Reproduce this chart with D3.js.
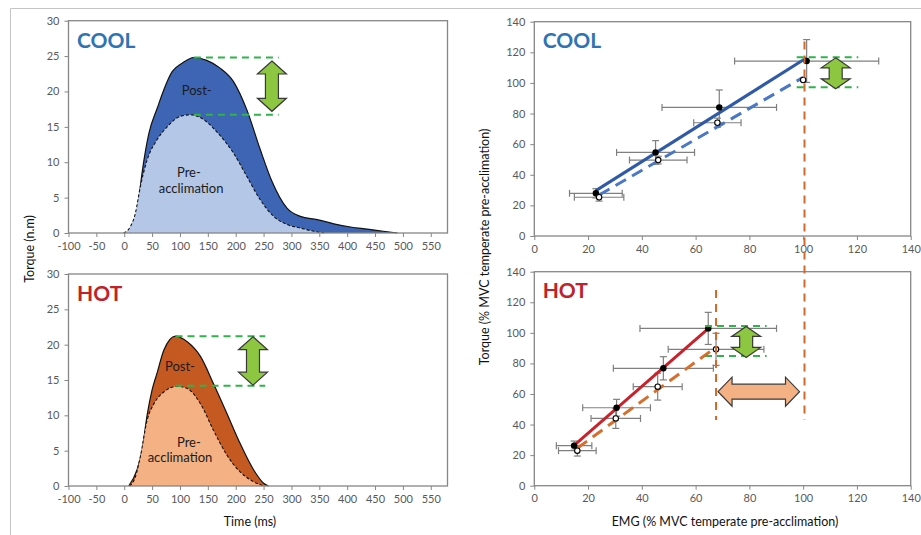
<!DOCTYPE html>
<html><head><meta charset="utf-8">
<script src="https://cdn.jsdelivr.net/npm/d3@7"></script>
<style>
body{margin:0;background:#fff}
svg{display:block}
text{font-family:Lato,"Open Sans",sans-serif}
</style>
</head><body>
<svg id="c" width="921" height="535"></svg>
<script>
// ---------- DATA ----------
// Torque-time curves (ms, N.m)
const coolPostTime = [10, 17, 23, 32, 44, 59, 86, 104, 125, 148, 172, 196, 220, 244, 265, 292, 316, 346, 376, 406, 436, 465, 490];
const coolPostTorque = [0, 0.5, 2.8, 8.5, 14, 17.6, 22.8, 24, 24.8, 24.4, 23.3, 21.4, 17.4, 11.8, 7.3, 3.5, 2.35, 1.9, 1.3, 0.85, 0.55, 0.25, 0];
const coolPreTime = [-1, 11, 20, 29, 41, 59, 77, 101, 119, 143, 166, 196, 220, 244, 268, 292, 316, 346, 361];
const coolPreTorque = [0, 0.9, 2.8, 6.6, 10.3, 13.2, 15, 16.5, 16.7, 16, 14.3, 11.3, 8, 4.7, 2.35, 1.2, 0.7, 0.15, 0];
const hotPostTime = [8, 23, 32, 41, 50, 59, 71, 92, 113, 137, 160, 184, 208, 232, 250, 259];
const hotPostTorque = [0, 2.3, 5, 10, 13.6, 16, 19.2, 21.2, 20.4, 18.3, 14.5, 10.3, 6, 2.3, 0.4, 0];
const hotPreTime = [10, 20, 29, 41, 53, 71, 95, 113, 137, 160, 184, 208, 232, 250];
const hotPreTorque = [0, 1.3, 4.2, 9.3, 11.6, 13.3, 14.1, 13.8, 11.6, 7.9, 4.4, 2, 0.6, 0];
const timeTicks = [-100, -50, 0, 50, 100, 150, 200, 250, 300, 350, 400, 450, 500, 550];
const torqueTicks = [0, 5, 10, 15, 20, 25, 30];
// peak difference markers (N.m)
const coolPeaks = [24.8, 16.7];
const hotPeaks = [21.2, 14.2];

// Torque-EMG relationships (% MVC)
const coolPostEMG = [22.9, 45.1, 68.8, 101.3];
const coolPostTq = [27.9, 54.6, 84.0, 114.3];
const coolPostEMGErr = [9.8, 14.5, 21.3, 26.8];
const coolPostTqErr = [3, 7.7, 11.4, 14];
const coolPreEMG = [24.1, 46.1, 68.1, 100.0];
const coolPreTq = [25.3, 49.6, 74.0, 101.9];
const coolPreEMGErr = [9.2, 10.7, 8.8, 0];
const coolPreTqErr = [2.5, 2.5, 3, 0];
const hotPostEMG = [14.8, 30.6, 48.0, 64.7];
const hotPostTq = [26.2, 51.0, 76.8, 102.9];
const hotPostEMGErr = [6.6, 12.6, 18.6, 25.4];
const hotPostTqErr = [3, 5.5, 7.6, 10.5];
const hotPreEMG = [16.0, 30.3, 45.9, 67.6];
const hotPreTq = [22.9, 44.0, 64.8, 89.2];
const hotPreEMGErr = [7, 9.2, 9.1, 17.8];
const hotPreTqErr = [3.5, 6.5, 8.8, 10.5];
const emgTicks = [0, 20, 40, 60, 80, 100, 120, 140];
const pctTicks = [0, 20, 40, 60, 80, 100, 120, 140];
const coolPctPeaks = [116.7, 97.1];
const hotPctPeaks = [104.5, 84.9];
const maxEMGCool = 100.5, maxEMGHot = 67.6;

// ---------- DRAW ----------
const svg = d3.select("#c");
const C = {
  coolPost:"#3e65b3", coolPre:"#b4c7e7", hotPost:"#c45a22", hotPre:"#f4b183",
  coolTxt:"#2e74b5", hotTxt:"#c0222b", axis:"#868686", tick:"#595959",
  green:"#2fb34a", greenFill:"#8dc641", vline:"#d2692b",
  coolLine:"#2f5aa8", coolDash:"#4a77c8", hotLine:"#c9222b", hotDash:"#d86e2c", err:"#7f7f7f"
};

// frame
svg.append("line").attr("x1",10.5).attr("x2",921).attr("y1",8.5).attr("y2",8.5).attr("stroke","#c4c4c4").attr("stroke-width",1);
svg.append("line").attr("x1",10.5).attr("x2",10.5).attr("y1",8.5).attr("y2",535).attr("stroke","#c4c4c4").attr("stroke-width",1);

function axes(g, x, y, xt, yt){
  const ax = g.append("g").attr("transform",`translate(0,${y.range()[0]})`)
    .call(d3.axisBottom(x).tickValues(xt).tickFormat(d=>String(d)).tickSize(4).tickPadding(5).tickSizeOuter(0));
  const ay = g.append("g").attr("transform",`translate(${x.range()[0]},0)`)
    .call(d3.axisLeft(y).tickValues(yt).tickFormat(d=>String(d)).tickSize(4).tickPadding(5).tickSizeOuter(0));
  [ax,ay].forEach(a=>{
    a.select(".domain").remove();
    a.selectAll("line").attr("stroke",C.axis);
    a.selectAll("text").attr("fill",C.tick).style("font-size","11px").style("font-family","Lato,'Open Sans',sans-serif");
  });
  g.append("rect").attr("x",x.range()[0]).attr("y",y.range()[1])
    .attr("width",x.range()[1]-x.range()[0]).attr("height",y.range()[0]-y.range()[1])
    .attr("fill","none").attr("stroke",C.axis).attr("stroke-width",1.3);
}

function vArrow(g, cx, y1, y2, fill, hl){
  const hw=14.5, sw=6.5;
  const pts=[[cx,y1],[cx+hw,y1+hl],[cx+sw,y1+hl],[cx+sw,y2-hl],[cx+hw,y2-hl],[cx,y2],
             [cx-hw,y2-hl],[cx-sw,y2-hl],[cx-sw,y1+hl],[cx-hw,y1+hl]];
  g.append("polygon").attr("points",pts.map(p=>p.join(",")).join(" "))
    .attr("fill",fill).attr("stroke","#3a3a3a").attr("stroke-width",1.2).attr("stroke-linejoin","miter");
}
function hArrow(g, x1, x2, cy, fill){
  const hw=14.5, sw=7.5, hl=14;
  const pts=[[x1,cy],[x1+hl,cy-hw],[x1+hl,cy-sw],[x2-hl,cy-sw],[x2-hl,cy-hw],[x2,cy],
             [x2-hl,cy+hw],[x2-hl,cy+sw],[x1+hl,cy+sw],[x1+hl,cy+hw]];
  g.append("polygon").attr("points",pts.map(p=>p.join(",")).join(" "))
    .attr("fill",fill).attr("stroke","#3a3a3a").attr("stroke-width",1.2);
}
function greenDash(g, x1, x2, y){
  g.append("line").attr("x1",x1).attr("x2",x2).attr("y1",y).attr("y2",y)
    .attr("stroke",C.green).attr("stroke-width",2).attr("stroke-dasharray","7,5");
}

// ---- left panels: torque-time ----
const xT = d3.scaleLinear().domain([-100,580]).range([68.5,447.5]);
const yTc = d3.scaleLinear().domain([0,30]).range([233,20.7]);
const yTh = d3.scaleLinear().domain([0,30]).range([486,274]);

function timePanel(y, postT, postV, preT, preV, postCol, preCol, title, titleCol, peaks, arrowT, lbl){
  const g = svg.append("g");
  const area = d3.area().x(d=>xT(d[0])).y0(y(0)).y1(d=>y(d[1])).curve(d3.curveMonotoneX);
  const line = d3.line().x(d=>xT(d[0])).y(d=>y(d[1])).curve(d3.curveMonotoneX);
  const post = postT.map((t,i)=>[t,postV[i]]);
  const pre = preT.map((t,i)=>[t,preV[i]]);
  g.append("path").attr("d",area(post)).attr("fill",postCol);
  g.append("path").attr("d",line(post)).attr("fill","none").attr("stroke","#111").attr("stroke-width",1.2);
  g.append("path").attr("d",area(pre)).attr("fill",preCol);
  g.append("path").attr("d",line(pre)).attr("fill","none").attr("stroke","#111").attr("stroke-width",1.1).attr("stroke-dasharray","3,2");
  axes(g, xT, y, timeTicks, torqueTicks);
  g.append("text").attr("x",77).attr("y",y(30)+27).text(title).attr("fill",titleCol)
    .style("font-size","21px").style("font-weight","bold");
  const peakT = postT[postV.indexOf(d3.max(postV))];
  greenDash(g, xT(peakT), xT(arrowT.end), y(peaks[0]));
  greenDash(g, xT(peakT), xT(arrowT.end), y(peaks[1]));
  vArrow(g, xT(arrowT.c), y(peaks[0])+arrowT.inset, y(peaks[1])-arrowT.inset, C.greenFill, 13);
  g.append("text").attr("x",xT(lbl.post[0])).attr("y",y(lbl.post[1])).attr("text-anchor","middle").attr("dy","0.35em").attr("fill","#1b1b1b").style("font-size","13px").text("Post-");
  g.append("text").attr("x",xT(lbl.pre[0])).attr("y",y(lbl.pre[1])).attr("text-anchor","middle").attr("dy","0.35em").attr("fill","#1b1b1b").style("font-size","13px").text("Pre-");
  g.append("text").attr("x",xT(lbl.acc[0])).attr("y",y(lbl.acc[1])).attr("text-anchor","middle").attr("dy","0.35em").attr("fill","#1b1b1b").style("font-size","13px").text("acclimation");
}
timePanel(yTc, coolPostTime, coolPostTorque, coolPreTime, coolPreTorque, C.coolPost, C.coolPre, "COOL", C.coolTxt,
  coolPeaks, {c:265, end:277, inset:3.5}, {post:[130,20.2], pre:[116,8.5], acc:[120,6.3]});
timePanel(yTh, hotPostTime, hotPostTorque, hotPreTime, hotPreTorque, C.hotPost, C.hotPre, "HOT", C.hotTxt,
  hotPeaks, {c:231, end:253, inset:0.5}, {post:[100,16.9], pre:[116,6.2], acc:[100,4.0]});

svg.append("text").attr("transform","translate(34,249) rotate(-90)").attr("text-anchor","middle")
  .style("font-size","12.5px").attr("fill","#111").text("Torque (n.m)");
svg.append("text").attr("x",250).attr("y",526).attr("text-anchor","middle")
  .style("font-size","12.5px").attr("fill","#111").text("Time (ms)");

// ---- right panels: torque-EMG ----
const xE = d3.scaleLinear().domain([0,140]).range([534.3,910.7]);
const yEc = d3.scaleLinear().domain([0,140]).range([236,21.7]);
const yEh = d3.scaleLinear().domain([0,140]).range([485.7,271.7]);

function fit(xs, ys){
  const mx=d3.mean(xs), my=d3.mean(ys);
  const b=d3.sum(xs,(x,i)=>(x-mx)*(ys[i]-my))/d3.sum(xs,x=>(x-mx)*(x-mx));
  const a=my-b*mx;
  const x0=d3.min(xs), x1=d3.max(xs);
  return [[x0,a+b*x0],[x1,a+b*x1]];
}

function emgPanel(y, post, pre, lineCol, dashCol, title, titleCol, peaks, arrow){
  const g = svg.append("g");
  axes(g, xE, y, emgTicks, pctTicks);
  g.append("text").attr("x",542.7).attr("y",y(140)+26).text(title).attr("fill",titleCol)
    .style("font-size","21px").style("font-weight","bold");
  [post, pre].forEach(s=>{
    s.x.forEach((xv,i)=>{
      const yv=s.y[i], ex=s.ex[i], ey=s.ey[i];
      const eg=g.append("g").attr("stroke",C.err).attr("stroke-width",1.2);
      if(ex>0){
        eg.append("line").attr("x1",xE(xv-ex)).attr("x2",xE(xv+ex)).attr("y1",y(yv)).attr("y2",y(yv));
        eg.append("line").attr("x1",xE(xv-ex)).attr("x2",xE(xv-ex)).attr("y1",y(yv)-3.5).attr("y2",y(yv)+3.5);
        eg.append("line").attr("x1",xE(xv+ex)).attr("x2",xE(xv+ex)).attr("y1",y(yv)-3.5).attr("y2",y(yv)+3.5);
      }
      if(ey>0){
        eg.append("line").attr("x1",xE(xv)).attr("x2",xE(xv)).attr("y1",y(yv-ey)).attr("y2",y(yv+ey));
        eg.append("line").attr("x1",xE(xv)-3.5).attr("x2",xE(xv)+3.5).attr("y1",y(yv-ey)).attr("y2",y(yv-ey));
        eg.append("line").attr("x1",xE(xv)-3.5).attr("x2",xE(xv)+3.5).attr("y1",y(yv+ey)).attr("y2",y(yv+ey));
      }
    });
  });
  const ln = d3.line().x(d=>xE(d[0])).y(d=>y(d[1]));
  g.append("path").attr("d",ln(fit(pre.x,pre.y))).attr("stroke",dashCol).attr("stroke-width",3).attr("fill","none").attr("stroke-dasharray","12,7");
  g.append("path").attr("d",ln(fit(post.x,post.y))).attr("stroke",lineCol).attr("stroke-width",3).attr("fill","none");
  post.x.forEach((xv,i)=>g.append("circle").attr("cx",xE(xv)).attr("cy",y(post.y[i])).attr("r",3.2).attr("fill","#000"));
  pre.x.forEach((xv,i)=>g.append("circle").attr("cx",xE(xv)).attr("cy",y(pre.y[i])).attr("r",2.7).attr("fill","#fff").attr("stroke","#000").attr("stroke-width",1.1));
  greenDash(g, xE(arrow.x0), xE(arrow.x1), y(peaks[0]));
  greenDash(g, xE(arrow.x0), xE(arrow.x1), y(peaks[1]));
  vArrow(g, xE(arrow.c), y(peaks[0])+0.5, y(peaks[1])+1.5, C.greenFill, 10);
  return g;
}
emgPanel(yEc, {x:coolPostEMG,y:coolPostTq,ex:coolPostEMGErr,ey:coolPostTqErr},
  {x:coolPreEMG,y:coolPreTq,ex:coolPreEMGErr,ey:coolPreTqErr}, C.coolLine, C.coolDash, "COOL", C.coolTxt,
  coolPctPeaks, {x0:97.6, x1:120.5, c:112.1});
emgPanel(yEh, {x:hotPostEMG,y:hotPostTq,ex:hotPostEMGErr,ey:hotPostTqErr},
  {x:hotPreEMG,y:hotPreTq,ex:hotPreEMGErr,ey:hotPreTqErr}, C.hotLine, C.hotDash, "HOT", C.hotTxt,
  hotPctPeaks, {x0:63.5, x1:86.4, c:78.8});

// vertical max-EMG reference lines
svg.append("line").attr("x1",xE(maxEMGCool)).attr("x2",xE(maxEMGCool)).attr("y1",yEc(127)).attr("y2",yEh(43))
  .attr("stroke",C.vline).attr("stroke-width",2).attr("stroke-dasharray","8,6");
svg.append("line").attr("x1",xE(maxEMGHot)).attr("x2",xE(maxEMGHot)).attr("y1",yEh(128)).attr("y2",yEh(43))
  .attr("stroke",C.vline).attr("stroke-width",2).attr("stroke-dasharray","8,6");
hArrow(svg, xE(maxEMGHot)+2, xE(maxEMGCool)-5, yEh(61.5), C.hotPre);

svg.append("text").attr("transform","translate(489,247) rotate(-90)").attr("text-anchor","middle")
  .style("font-size","12.5px").attr("fill","#111").text("Torque (% MVC temperate pre-acclimation)");
svg.append("text").attr("x",725).attr("y",526).attr("text-anchor","middle")
  .style("font-size","12.5px").attr("fill","#111").text("EMG (% MVC temperate pre-acclimation)");
</script>
</body></html>
